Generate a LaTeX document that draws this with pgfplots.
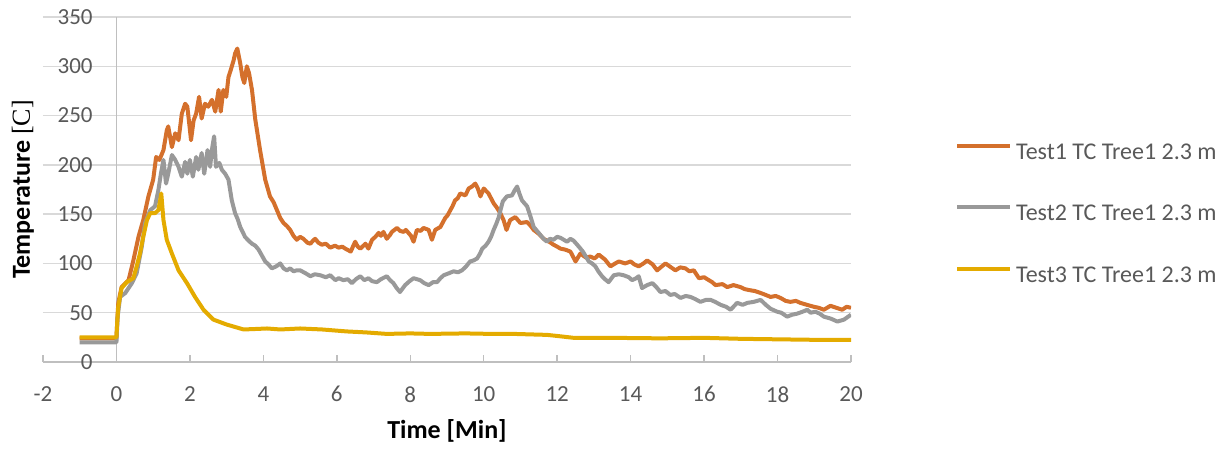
\documentclass[border=0pt]{standalone}
\usepackage{pgfplots}
\pgfplotsset{compat=1.18}
\usepackage{fontspec}
\setmainfont{Carlito}
\newfontfamily\seriffont{Liberation Serif}
\definecolor{cOrange}{HTML}{D4702C}
\definecolor{cGray}{HTML}{999999}
\definecolor{cYellow}{HTML}{E4AB00}
\definecolor{gridgray}{HTML}{D9D9D9}
\definecolor{axisgray}{HTML}{BFBFBF}
\definecolor{textgray}{HTML}{595959}

\begin{document}
\begin{tikzpicture}
\path (-21.5bp,-43bp) rectangle (592.5bp,181bp);
\begin{axis}[
  at={(0,0)}, anchor=south west,
  scale only axis, width=404bp, height=172.5bp,
  xmin=-2, xmax=20, ymin=0, ymax=350,
  xtick={-2,0,...,20}, ytick={0,50,...,350},
  axis x line*=bottom, axis y line*=left,
  axis line style={-},
  x axis line style={axisgray, line width=0.75bp},
  y axis line style={draw=none},
  ytick style={draw=none},
  xtick style={axisgray, line width=0.75bp},
  tick align=inside, major tick length=3.5bp,
  ymajorgrids, grid style={gridgray, line width=0.75bp},
  extra x ticks={0}, extra x tick labels={},
  extra x tick style={grid=major, major grid style={axisgray, line width=0.75bp}, major tick length=0pt},
  /pgf/number format/assume math mode=true,
  tick label style={font=\fontsize{11.5bp}{13bp}\selectfont, text=textgray},
  yticklabel style={anchor=east, inner sep=0pt, xshift=25bp},
  xticklabel style={anchor=north, inner sep=0pt, yshift=-12bp},
  xlabel={Time [Min]},
  ylabel={Temperature {\mdseries\seriffont[C]}},
  label style={font=\bfseries\fontsize{13bp}{15bp}\selectfont, text=black},
  xlabel style={at={(axis description cs:0.5,-0.2)}, anchor=center},
  ylabel style={at={(axis description cs:-0.0248,0.5)}, anchor=center},
  legend style={at={(axis description cs:1.1287,0.428)}, anchor=west, draw=none, fill=none, inner sep=0pt,
    font=\fontsize{12bp}{14bp}\selectfont, text=textgray, row sep=17.5bp, cells={anchor=west}},
  legend cell align=left,
  legend image code/.code={\draw[#1, line width=1.9bp] (0bp,3.5bp) -- (26.5bp,3.5bp);},
  every axis plot/.append style={line width=2bp, line join=round, no markers},
]
\addplot[cOrange] coordinates {
(-1,24)(0,24)(0.02,40)(0.05,60)(0.14,76)(0.25,80)(0.33,83)(0.46,103)(0.6,127)(0.73,144)(0.87,168)(1.0,185)(1.08,208)(1.17,205)(1.28,215)(1.37,235)(1.41,239)(1.51,218)(1.6,232)(1.69,225)(1.78,252)(1.87,262)(1.93,259)(1.99,239)(2.03,225)(2.1,245)(2.17,252)(2.25,269)(2.32,247)(2.41,262)(2.5,259)(2.6,266)(2.69,254)(2.78,276)(2.84,254)(2.91,276)(2.99,269)(3.05,289)(3.11,296)(3.19,306)(3.23,313)(3.29,318)(3.37,303)(3.43,289)(3.48,283)(3.55,300)(3.61,293)(3.69,276)(3.78,246)(3.91,215)(4.05,185)(4.18,168)(4.28,162)(4.37,154)(4.46,146)(4.55,141)(4.64,138)(4.73,134)(4.82,128)(4.91,124)(5.0,127)(5.09,125)(5.2,121)(5.28,120)(5.35,123)(5.41,125)(5.5,121)(5.59,119)(5.7,120)(5.82,116)(5.95,118)(6.05,116)(6.15,117)(6.23,115)(6.38,112)(6.45,118)(6.5,122)(6.57,117)(6.64,115)(6.78,120)(6.86,115)(6.96,124)(7.05,127)(7.14,131)(7.2,128)(7.27,132)(7.36,125)(7.45,129)(7.5,132)(7.64,136)(7.72,133)(7.82,132)(7.88,134)(7.95,131)(8.02,128)(8.09,122)(8.18,134)(8.28,133)(8.36,136)(8.5,134)(8.59,124)(8.68,134)(8.82,137)(8.95,146)(9.02,149)(9.09,154)(9.15,158)(9.22,164)(9.29,166)(9.36,171)(9.5,169)(9.59,176)(9.68,178)(9.77,181)(9.84,176)(9.91,168)(10.0,176)(10.13,171)(10.27,161)(10.35,157)(10.45,151)(10.54,144)(10.62,134)(10.72,144)(10.86,147)(11.0,141)(11.18,142)(11.28,138)(11.36,134)(11.5,130)(11.63,125)(11.78,122)(11.9,119)(12.0,117)(12.09,115)(12.22,114)(12.36,112)(12.5,102)(12.63,110)(12.78,106)(12.9,107)(13.02,105)(13.13,109)(13.3,104)(13.45,97)(13.58,100)(13.68,102)(13.85,100)(14.0,102)(14.1,99)(14.22,97)(14.35,100)(14.45,103)(14.6,99)(14.72,93)(14.85,97)(14.95,100)(15.1,96)(15.22,93)(15.35,96)(15.49,95)(15.6,92)(15.72,93)(15.86,85)(16.0,86)(16.13,83)(16.22,81)(16.31,78)(16.5,79)(16.63,76)(16.8,78)(16.99,76)(17.1,74)(17.22,73)(17.38,72)(17.54,70)(17.68,68)(17.81,66)(17.95,67)(18.08,65)(18.22,62)(18.35,61)(18.5,62)(18.62,60)(18.8,58)(18.99,56)(19.12,55)(19.26,53)(19.44,57)(19.6,55)(19.76,53)(19.88,56)(20,55)
};
\addlegendentry{Test1 TC Tree1 2.3 m}
\addplot[cGray] coordinates {
(-1,20)(0,20)(0.03,45)(0.1,66)(0.24,70)(0.42,80)(0.55,90)(0.69,117)(0.78,141)(0.92,154)(1.05,158)(1.14,174)(1.21,191)(1.28,205)(1.35,181)(1.41,191)(1.51,210)(1.6,205)(1.69,198)(1.78,188)(1.87,203)(1.93,191)(2.0,205)(2.08,188)(2.17,208)(2.23,195)(2.32,212)(2.39,191)(2.48,215)(2.55,198)(2.61,218)(2.66,229)(2.71,198)(2.8,202)(2.87,195)(2.96,191)(3.05,185)(3.14,164)(3.23,151)(3.3,145)(3.37,137)(3.5,127)(3.6,123)(3.69,120)(3.78,118)(3.87,114)(3.96,108)(4.05,102)(4.14,99)(4.23,95)(4.35,97)(4.46,100)(4.55,95)(4.64,93)(4.73,95)(4.82,92)(4.91,93)(5.0,93)(5.15,90)(5.28,87)(5.4,89)(5.55,88)(5.7,86)(5.82,88)(5.96,83)(6.05,85)(6.18,83)(6.3,84)(6.41,80)(6.52,84)(6.64,87)(6.75,83)(6.86,85)(6.96,82)(7.09,81)(7.2,84)(7.36,87)(7.45,83)(7.54,80)(7.63,75)(7.72,71)(7.86,78)(7.98,82)(8.09,85)(8.27,83)(8.38,80)(8.5,78)(8.62,81)(8.73,81)(8.82,85)(8.91,88)(9.05,90)(9.18,92)(9.3,91)(9.41,93)(9.52,97)(9.63,102)(9.72,103)(9.82,105)(9.9,110)(9.96,115)(10.05,118)(10.13,122)(10.2,127)(10.27,134)(10.34,140)(10.41,147)(10.47,156)(10.52,163)(10.63,168)(10.77,169)(10.84,174)(10.91,178)(10.97,171)(11.04,164)(11.18,158)(11.27,148)(11.36,137)(11.45,133)(11.54,129)(11.63,125)(11.72,122)(11.8,125)(11.9,124)(12.0,127)(12.09,126)(12.18,124)(12.27,122)(12.36,125)(12.45,123)(12.59,117)(12.7,112)(12.78,107)(12.86,102)(12.95,100)(13.04,97)(13.12,92)(13.22,87)(13.3,84)(13.4,81)(13.54,88)(13.68,89)(13.81,88)(13.95,86)(14.04,83)(14.15,85)(14.22,87)(14.31,75)(14.45,78)(14.59,80)(14.7,76)(14.81,71)(14.95,72)(15.08,68)(15.2,69)(15.36,65)(15.5,67)(15.63,66)(15.75,64)(15.9,61)(16.05,63)(16.18,63)(16.3,61)(16.45,58)(16.6,56)(16.72,53)(16.9,60)(17.05,58)(17.18,60)(17.35,61)(17.54,63)(17.68,58)(17.81,54)(17.99,51)(18.1,50)(18.26,46)(18.4,48)(18.53,49)(18.68,51)(18.81,53)(18.9,50)(19.03,51)(19.15,49)(19.26,46)(19.45,44)(19.63,41)(19.81,43)(20,48)
};
\addlegendentry{Test2 TC Tree1 2.3 m}
\addplot[cYellow] coordinates {
(-1,25)(0,25)(0.02,40)(0.05,56)(0.14,75)(0.28,81)(0.46,85)(0.55,97)(0.64,110)(0.73,127)(0.83,144)(0.92,151)(1.05,151)(1.14,154)(1.19,164)(1.22,171)(1.28,144)(1.37,124)(1.51,110)(1.69,93)(1.92,80)(2.14,66)(2.37,53)(2.64,43)(3.0,38)(3.46,33)(3.8,33.5)(4.1,34)(4.46,33)(5.0,34)(5.6,33)(6.27,31)(6.8,30)(7.36,28.5)(8.0,29)(8.54,28.5)(9.5,29)(10.2,28.5)(10.81,28.5)(11.73,27.5)(12.1,26)(12.45,24.5)(13.5,24.5)(14.8,24)(16,24.5)(17,23.5)(18,23)(19,22.5)(20,22.5)
};
\addlegendentry{Test3 TC Tree1 2.3 m}
\end{axis}
\end{tikzpicture}
\end{document}
